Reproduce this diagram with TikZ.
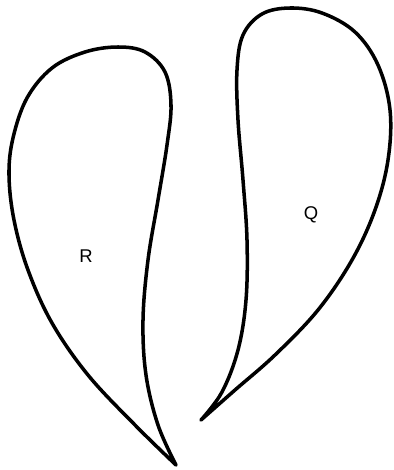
\documentclass[tikz,border=0pt]{standalone}
\usepackage{fontspec}
\setmainfont{Liberation Sans}
\begin{document}
\begin{tikzpicture}[
  x=0.02cm, y=-0.02cm,
  region/.style={draw=black, line width=2pt, line cap=round, line join=round},
  lbl/.style={font=\fontsize{10.5}{12}\selectfont, inner sep=0pt}
]
\useasboundingbox (0,0) rectangle (393,470);
% region R
\draw[region] plot[smooth, tension=0.6] coordinates {
  (176,465) (158,425) (146,375) (143,320) (148,260) (158,200) (167,145)
  (171,105) (165,72) (145,52) (118,47) (85,52) (52,68) (27,98) (13,138)
  (9,175) (14,220) (28,270) (52,323) (88,375) (135,425) (176,465)};
% region Q
\draw[region] plot[smooth, tension=0.6] coordinates {
  (201,420) (222,392) (238,350) (246,300) (247,240) (243,180) (238,120)
  (237,70) (243,35) (262,14) (290,8) (322,13) (355,32) (378,65) (390,110)
  (388,160) (375,210) (352,260) (318,310) (275,355) (235,390) (201,420)};
\node[lbl] (r) at (86,256) {R};
\node[lbl] (q) at (311,215) {Q};
\end{tikzpicture}
\end{document}
